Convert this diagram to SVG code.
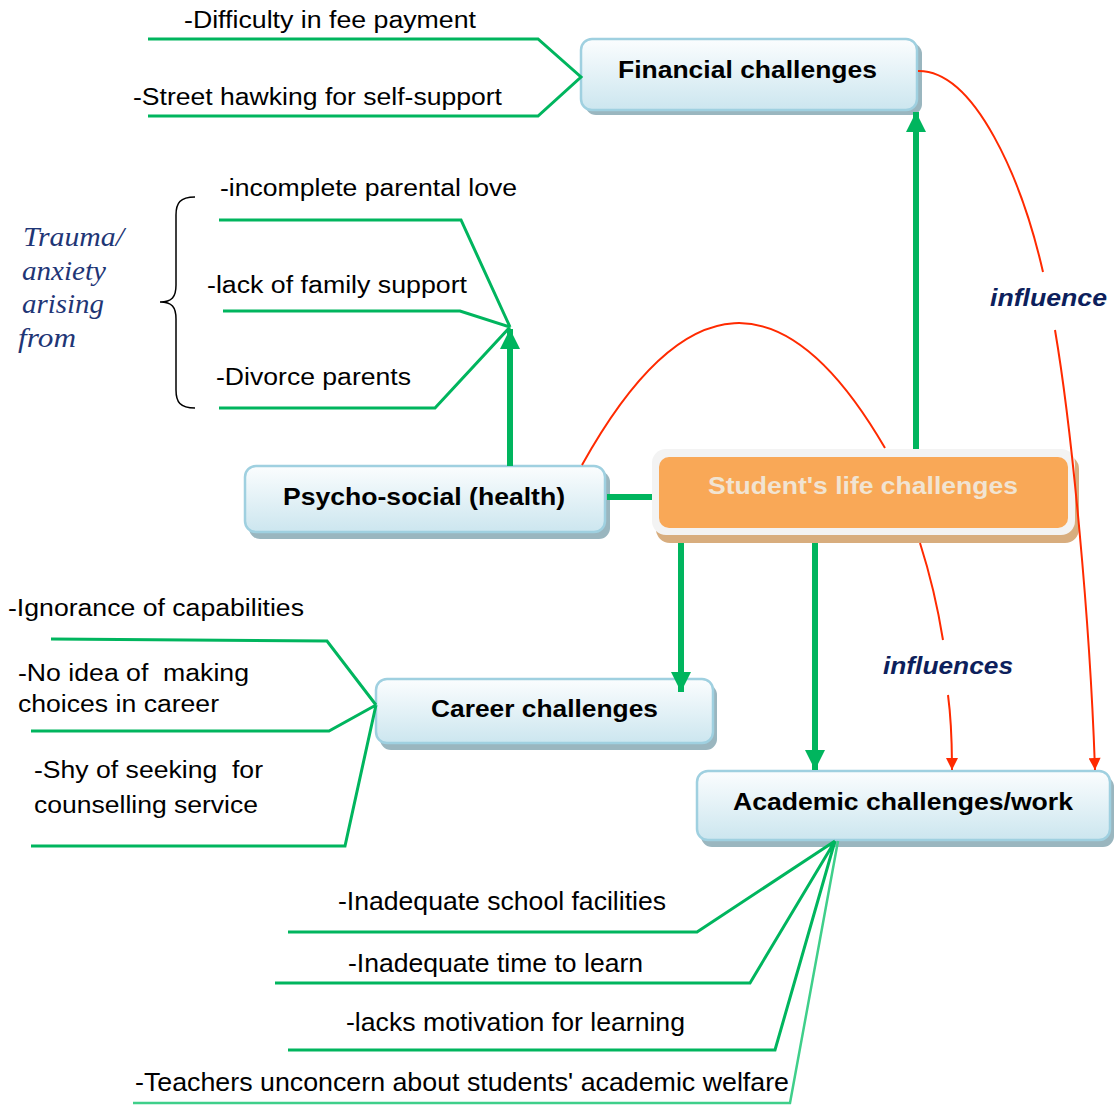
<svg xmlns="http://www.w3.org/2000/svg" width="1115" height="1105" viewBox="0 0 1115 1105">
<defs>
<linearGradient id="bg" x1="0" y1="0" x2="0" y2="1">
<stop offset="0" stop-color="#fbfdfe"/>
<stop offset="1" stop-color="#cce6ef"/>
</linearGradient>
<marker id="ga" viewBox="0 0 10 10" refX="10" refY="5" markerWidth="3.4" markerHeight="3.4" orient="auto" markerUnits="strokeWidth">
<path d="M0,0 L10,5 L0,10 z" fill="#00b55e"/>
</marker>
<marker id="ra" viewBox="0 0 10 10" refX="10" refY="5" markerWidth="7" markerHeight="6" orient="auto" markerUnits="strokeWidth">
<path d="M0,0 L10,5 L0,10 z" fill="#ff2a00"/>
</marker>
</defs>
<style>
.box{fill:url(#bg);stroke:#9fd0e0;stroke-width:2.5}
.shd{fill:#9ab6bf}
.lbl{font-family:"Liberation Sans",Arial,sans-serif;font-weight:bold;font-size:24px;fill:#000}
.t{font-family:"Liberation Sans",Arial,sans-serif;font-size:23px;fill:#000}
.tn{font-family:"Liberation Sans",Arial,sans-serif;font-size:25px;fill:#000}
.gl{fill:none;stroke:#00b55e;stroke-width:3}
.ga{fill:none;stroke:#00b55e;stroke-width:6}
.rl{fill:none;stroke:#ff2a00;stroke-width:2}
.inf{font-family:"Liberation Sans",Arial,sans-serif;font-weight:bold;font-style:italic;font-size:24px;fill:#0d1f5c}
.tr{font-family:"Liberation Serif","Times New Roman",serif;font-style:italic;font-size:28px;fill:#1f3676}
</style>

<g id="financial">
<rect class="shd" x="585" y="43" width="337" height="72" rx="11"/>
<rect class="box" x="581" y="39" width="336" height="71" rx="11"/>
<text class="lbl" x="618" y="78" textLength="259" lengthAdjust="spacingAndGlyphs">Financial challenges</text>
</g>

<g id="psycho">
<rect class="shd" x="249" y="471" width="361" height="68" rx="11"/>
<rect class="box" x="245" y="466" width="360" height="66" rx="11"/>
<text class="lbl" x="283" y="505" textLength="282" lengthAdjust="spacingAndGlyphs">Psycho-social (health)</text>
</g>

<g id="student">
<rect x="656" y="455" width="423" height="88" rx="14" fill="#d8ad7e"/>
<rect x="652" y="449" width="423" height="86" rx="14" fill="#f3f3f3"/>
<rect x="659" y="457" width="409" height="71" rx="10" fill="#f9a857"/>
<text class="lbl" x="708" y="494" style="fill:#f1e4d2" textLength="310" lengthAdjust="spacingAndGlyphs">Student's life challenges</text>
</g>

<g id="career">
<rect class="shd" x="380" y="684" width="337" height="66" rx="11"/>
<rect class="box" x="376" y="679" width="337" height="64" rx="11"/>
<text class="lbl" x="431" y="717" textLength="227" lengthAdjust="spacingAndGlyphs">Career challenges</text>
</g>

<g id="academic">
<rect class="shd" x="701" y="776" width="413" height="71" rx="11"/>
<rect class="box" x="697" y="771" width="413" height="69" rx="11"/>
<text class="lbl" x="733" y="810" textLength="340" lengthAdjust="spacingAndGlyphs">Academic challenges/work</text>
</g>

<g id="connectors">
<path class="gl" d="M148,39 L538,39 L581,77 L538,116 L148,116"/>
<path class="gl" d="M219,220 L461,220 L510,327 M223,311 L460,311 L510,327 M219,408 L435,408 L510,327"/>
<path class="gl" d="M51,639 L327,641 L376,705 M31,731 L329,731 L376,705 M31,846 L345,846 L376,705"/>
<path class="gl" d="M288,932 L697,932 L835,841 M275,983 L750,983 L835,841 M288,1050 L775,1050 L835,841"/>
<path d="M133,1103 L790,1103 L838,841" fill="none" stroke="#3fcf8a" stroke-width="2.5"/>
<path class="ga" d="M510,466 L510,329" marker-end="url(#ga)"/>
<path class="ga" d="M916,449 L916,112" marker-end="url(#ga)"/>
<path class="ga" d="M607,497 L652,497"/>
<path class="ga" d="M681,543 L681,692" marker-end="url(#ga)"/>
<path class="ga" d="M815,543 L815,770" marker-end="url(#ga)"/>
<path class="rl" d="M918,71 C975,70 1022,180 1043,272"/>
<path class="rl" d="M1055,330 C1072,430 1090,620 1095,770" marker-end="url(#ra)"/>
<path class="rl" d="M582,465 Q735,190 885,448"/>
<path class="rl" d="M920,543 Q935,590 943,640"/>
<path class="rl" d="M948,695 Q952,725 952,770" marker-end="url(#ra)"/>
</g>

<g id="labels">
<text class="t" x="184" y="28" textLength="292" lengthAdjust="spacingAndGlyphs">-Difficulty in fee payment</text>
<text class="t" x="133" y="105" textLength="369" lengthAdjust="spacingAndGlyphs">-Street hawking for self-support</text>
<text class="t" x="220" y="196" textLength="297" lengthAdjust="spacingAndGlyphs">-incomplete parental love</text>
<text class="t" x="207" y="293" textLength="260" lengthAdjust="spacingAndGlyphs">-lack of family support</text>
<text class="t" x="216" y="385" textLength="195" lengthAdjust="spacingAndGlyphs">-Divorce parents</text>
<text class="t" x="8" y="616" textLength="296" lengthAdjust="spacingAndGlyphs">-Ignorance of capabilities</text>
<text class="t" x="18" y="681" xml:space="preserve" textLength="231" lengthAdjust="spacingAndGlyphs">-No idea of  making</text>
<text class="t" x="18" y="712" textLength="201" lengthAdjust="spacingAndGlyphs">choices in career</text>
<text class="t" x="34" y="778" xml:space="preserve" textLength="229" lengthAdjust="spacingAndGlyphs">-Shy of seeking  for</text>
<text class="t" x="34" y="813" textLength="224" lengthAdjust="spacingAndGlyphs">counselling service</text>
<text class="tn" x="338" y="910" textLength="328" lengthAdjust="spacingAndGlyphs">-Inadequate school facilities</text>
<text class="tn" x="348" y="972" textLength="295" lengthAdjust="spacingAndGlyphs">-Inadequate time to learn</text>
<text class="tn" x="346" y="1031" textLength="339" lengthAdjust="spacingAndGlyphs">-lacks motivation for learning</text>
<text class="tn" x="135" y="1091" textLength="654" lengthAdjust="spacingAndGlyphs">-Teachers unconcern about students' academic welfare</text>
<text class="inf" x="990" y="306" textLength="117" lengthAdjust="spacingAndGlyphs">influence</text>
<text class="inf" x="883" y="674" textLength="130" lengthAdjust="spacingAndGlyphs">influences</text>
<text class="tr" x="23" y="246" textLength="101" lengthAdjust="spacingAndGlyphs">Trauma/</text>
<text class="tr" x="22" y="280" textLength="84" lengthAdjust="spacingAndGlyphs">anxiety</text>
<text class="tr" x="22" y="313" textLength="82" lengthAdjust="spacingAndGlyphs">arising</text>
<text class="tr" x="18" y="347" textLength="58" lengthAdjust="spacingAndGlyphs">from</text>
<path d="M195,197 C180,197 176,203 176,215 L176,285 C176,297 172,302 160,302 C172,302 176,307 176,319 L176,390 C176,402 180,408 195,408" fill="none" stroke="#000" stroke-width="1.5"/>
</g>
</svg>
